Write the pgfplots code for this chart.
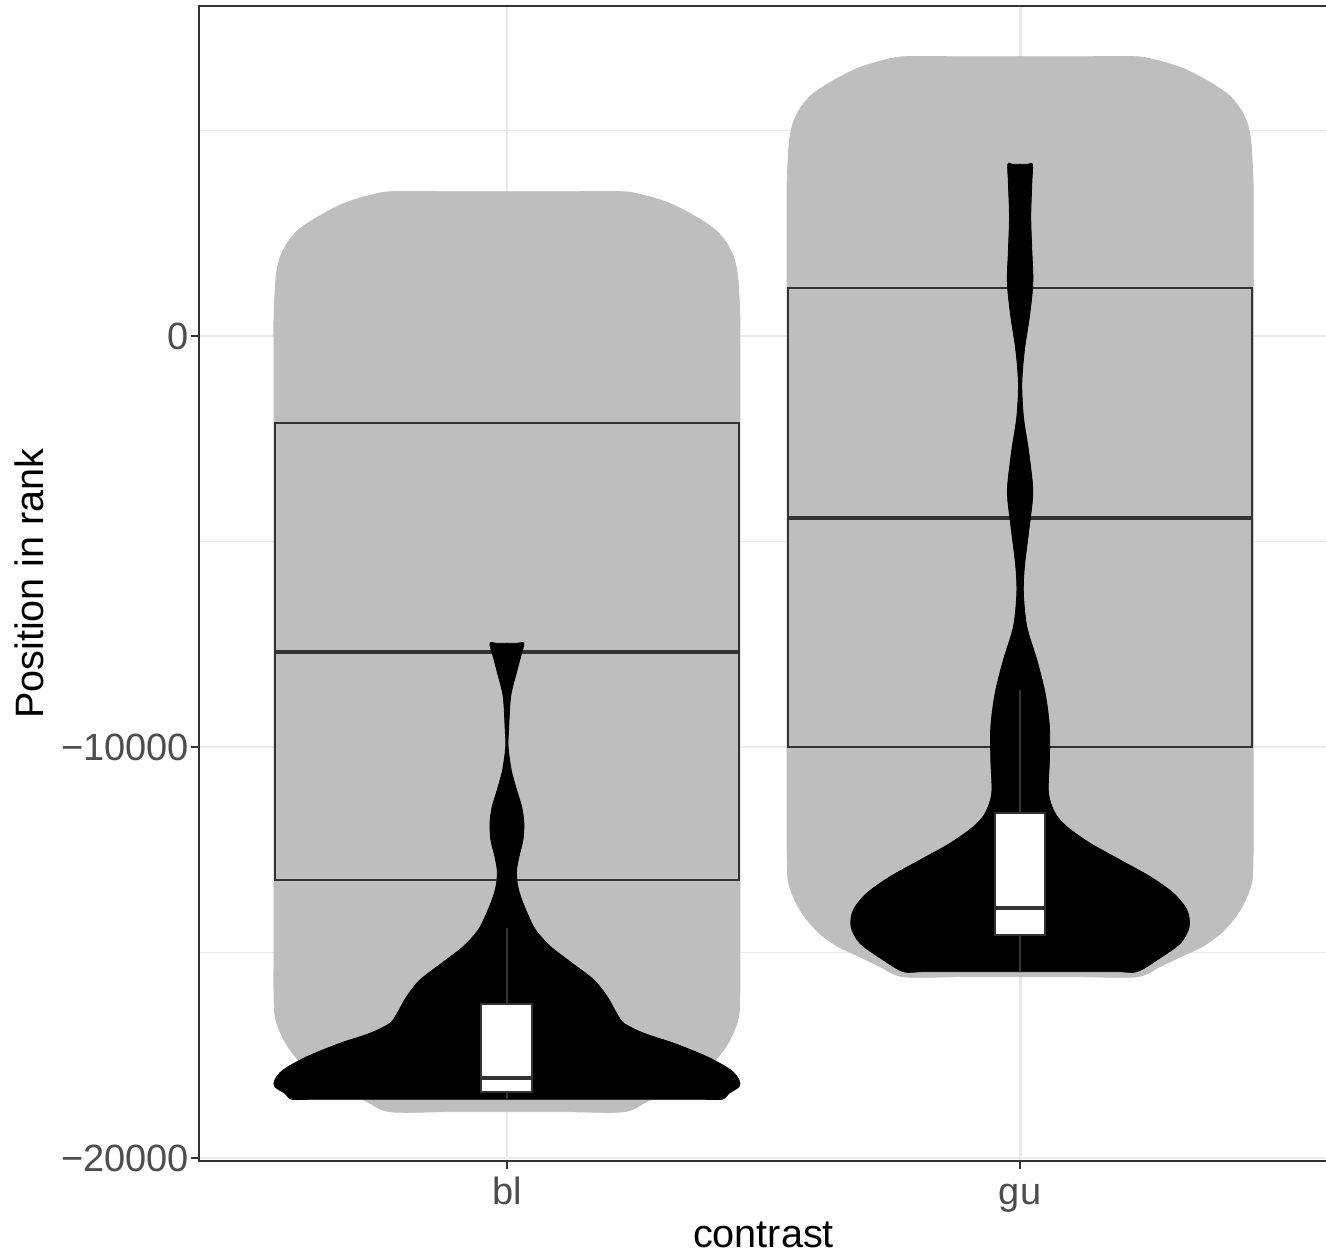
\documentclass[border=0pt]{standalone}
\usepackage{fontspec}
\setmainfont{Liberation Sans}
\usepackage{pgfplots}
\usepackage{pgfplotstable}
\pgfplotsset{compat=1.18}

\definecolor{violingrey}{HTML}{BEBEBE}
\definecolor{boxline}{HTML}{333333}
\definecolor{gridgrey}{HTML}{EBEBEB}
\definecolor{ticktext}{HTML}{4D4D4D}
\newcommand\fs{\fontsize{9.9}{11.9}\selectfont}
\newcommand\fst{\fontsize{9.5}{11.4}\selectfont}

% wide (grey) violins: half width h at rank v
\pgfplotstableread{
v h
3511 0
3511 0.12
3511 0.226
3411 0.270
3261 0.310
3061 0.345
2811 0.380
2561 0.408
2261 0.428
1911 0.442
1511 0.449
1011 0.452
411 0.454
-189 0.454
-1500 0.454
-3500 0.454
-5500 0.454
-7500 0.454
-9500 0.454
-11500 0.454
-13500 0.454
-14673 0.454
-15273 0.454
-15873 0.454
-16523 0.452
-16923 0.442
-17323 0.425
-17773 0.395
-18123 0.357
-18373 0.315
-18623 0.273
-18873 0.228
-18873 0.12
-18873 0
}\greybl

\pgfplotstableread{
v h
6795 0
6795 0.12
6795 0.226
6695 0.270
6545 0.310
6345 0.345
6095 0.380
5845 0.408
5545 0.428
5195 0.442
4795 0.449
4295 0.452
3695 0.454
3095 0.454
1800 0.454
-200 0.454
-2200 0.454
-4200 0.454
-6200 0.454
-8200 0.454
-10200 0.454
-11388 0.454
-11988 0.454
-12588 0.454
-13238 0.452
-13638 0.442
-14038 0.425
-14488 0.395
-14838 0.357
-15088 0.315
-15338 0.273
-15588 0.228
-15588 0.12
-15588 0
}\greygu

% narrow (black) violins
\pgfplotstableread{
v h
-7477 0
-7477 0.02
-7477 0.0331
-7803 0.0267
-8207 0.0181
-8776 0.0072
-9586 0.0033
-9992 0.0023
-10559 0.0084
-11046 0.0189
-11452 0.0287
-11856 0.0331
-12262 0.0312
-12669 0.0234
-12992 0.0189
-13316 0.0201
-13642 0.0267
-14046 0.0396
-14452 0.0559
-14858 0.0852
-15262 0.1273
-15669 0.1696
-16075 0.1955
-16479 0.2138
-16722 0.2281
-16966 0.2671
-17209 0.3255
-17535 0.3899
-17858 0.4361
-18101 0.4522
-18264 0.4522
-18425 0.4327
-18571 0.4191
-18571 0.38
-18571 0.2
-18571 0
}\blackbl

\pgfplotstableread{
v h
4177 0
4177 0.015
4177 0.0240
3715 0.0228
2903 0.0208
2092 0.0228
1525 0.0248
1119 0.0240
470 0.0181
-341 0.0084
-1151 0.0033
-1963 0.0064
-2774 0.0162
-3584 0.0240
-3990 0.0240
-4800 0.0162
-5613 0.0084
-6260 0.0064
-7073 0.0130
-7883 0.0326
-8693 0.0487
-9506 0.0571
-10316 0.0571
-11126 0.0552
-11613 0.0682
-11939 0.0910
-12343 0.1365
-12749 0.1949
-13155 0.2534
-13559 0.2988
-13965 0.3249
-14372 0.3294
-14776 0.3119
-15182 0.2665
-15466 0.2275
-15466 0.19
-15466 0.1
-15466 0
}\blackgu

\begin{document}
\begin{tikzpicture}
\begin{axis}[
    at={(0,0)}, anchor=south west,
    scale only axis, width=282.26pt, height=288.75pt,
    xmin=0.4, xmax=2.6, ymin=-20072, ymax=8029,
    xtick={1,2}, xticklabels={bl,gu},
    ytick={-20000,-10000,0}, yticklabels={−20000,−10000,0},
    minor ytick={-15000,-5000,5000},
    grid=both,
    major grid style={gridgrey, line width=0.7pt},
    minor grid style={gridgrey, line width=0.35pt},
    axis line style={boxline, line width=0.55pt},
    tick align=outside, tick pos=left,
    major tick length=1.9pt, minor tick length=0pt,
    tick style={boxline, line width=0.55pt},
    tick label style={font=\fst, text=ticktext, inner sep=0pt},
    yticklabel style={anchor=east, xshift=-0.4pt},
    xticklabel style={anchor=base, yshift=-8.9pt},
    label style={font=\fs, inner sep=0pt},
    xlabel={contrast}, ylabel={Position in rank},
    xlabel style={at={(axis description cs:0.5,-0.0747)}, anchor=base},
    ylabel style={at={(axis description cs:-0.1379,0.5)}, anchor=base},
    violin/.style={line width=0.2pt, smooth, tension=0.5},
  ]
  % grey violins
  \addplot[violin, fill=violingrey, draw=violingrey] table[x expr=1+\thisrow{h}, y=v] {\greybl} -- cycle;
  \addplot[violin, fill=violingrey, draw=violingrey] table[x expr=1-\thisrow{h}, y=v] {\greybl} -- cycle;
  \addplot[violin, fill=violingrey, draw=violingrey] table[x expr=2+\thisrow{h}, y=v] {\greygu} -- cycle;
  \addplot[violin, fill=violingrey, draw=violingrey] table[x expr=2-\thisrow{h}, y=v] {\greygu} -- cycle;

  % wide boxes
  \addplot[boxline, line width=0.5pt] coordinates {(0.5484,-2117) (1.4516,-2117) (1.4516,-13236) (0.5484,-13236)} -- cycle;
  \addplot[boxline, line width=1pt] coordinates {(0.5484,-7680) (1.4516,-7680)};
  \addplot[boxline, line width=0.5pt] coordinates {(1.5484,1175) (2.4516,1175) (2.4516,-10000) (1.5484,-10000)} -- cycle;
  \addplot[boxline, line width=1pt] coordinates {(1.5484,-4421) (2.4516,-4421)};

  % black violins
  \addplot[violin, fill=black, draw=black] table[x expr=1+\thisrow{h}, y=v] {\blackbl} -- cycle;
  \addplot[violin, fill=black, draw=black] table[x expr=1-\thisrow{h}, y=v] {\blackbl} -- cycle;
  \addplot[violin, fill=black, draw=black] table[x expr=2+\thisrow{h}, y=v] {\blackgu} -- cycle;
  \addplot[violin, fill=black, draw=black] table[x expr=2-\thisrow{h}, y=v] {\blackgu} -- cycle;

  % narrow boxplots
  \addplot[boxline, line width=0.5pt] coordinates {(1,-16253) (1,-14411)};
  \addplot[boxline, line width=0.5pt] coordinates {(1,-18401) (1,-18571)};
  \addplot[fill=white, draw=boxline, line width=0.5pt] coordinates {(0.9503,-16253) (1.0497,-16253) (1.0497,-18401) (0.9503,-18401)} -- cycle;
  \addplot[boxline, line width=1pt] coordinates {(0.9503,-18045) (1.0497,-18045)};

  \addplot[boxline, line width=0.5pt] coordinates {(2,-11613) (2,-8613)};
  \addplot[boxline, line width=0.5pt] coordinates {(2,-14574) (2,-15466)};
  \addplot[fill=white, draw=boxline, line width=0.5pt] coordinates {(1.951,-11613) (2.049,-11613) (2.049,-14574) (1.951,-14574)} -- cycle;
  \addplot[boxline, line width=1pt] coordinates {(1.951,-13924) (2.049,-13924)};
\end{axis}
\pgfresetboundingbox
\path[use as bounding box] (-49.75pt,-23.75pt) rectangle (281.75pt,290.25pt);
\end{tikzpicture}
\end{document}
